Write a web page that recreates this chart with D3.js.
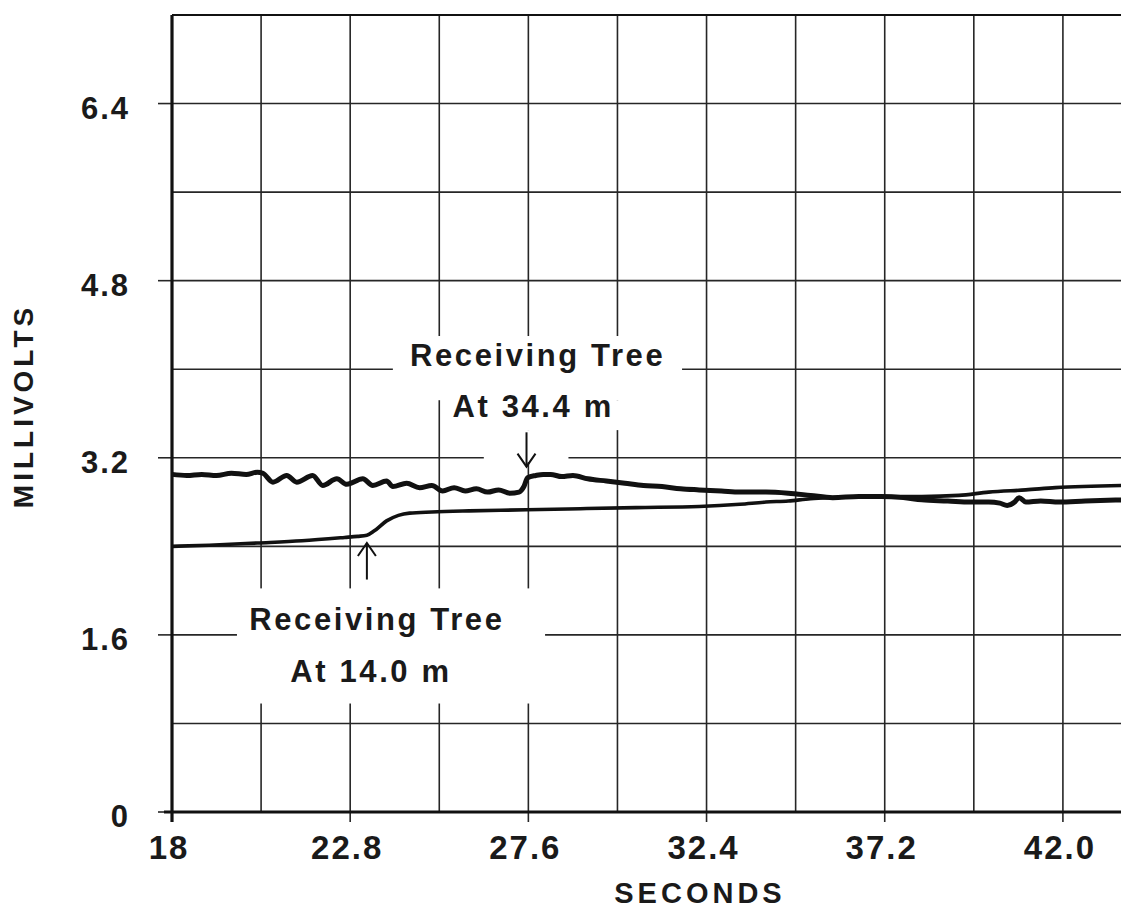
<!DOCTYPE html>
<html>
<head>
<meta charset="utf-8">
<script src="https://cdn.jsdelivr.net/npm/d3@7"></script>
<style>
    body { margin: 0; background: #fff; }
    text { font-family: "Liberation Sans", Arial, sans-serif; font-weight: bold; fill: #1a1a1a; }
</style>
</head>
<body>
<svg id="chart"></svg>
<script>
// Tick labels shown on the axes
const xTickLabels = [18, 22.8, 27.6, 32.4, 37.2, 42.0];
const yTickLabels = [0, 1.6, 3.2, 4.8, 6.4];

// Receiving tree at 34.4 m (upper, wavy trace)
const farSeconds = [18.0, 18.4, 18.8, 19.2, 19.6, 20.0, 20.3, 20.45, 20.72, 21.09, 21.36, 21.79, 22.06, 22.44,
    22.71, 23.14, 23.41, 23.78, 23.95, 24.32, 24.67, 25.0, 25.29, 25.6, 25.9, 26.2, 26.5, 26.8, 27.1, 27.35,
    27.48, 27.58, 27.8, 28.0, 28.2, 28.5, 28.8, 29.2, 29.7, 30.2, 30.7, 31.2, 31.7, 32.2, 32.8, 33.3, 34.0,
    34.6, 35.2, 35.8, 36.5, 37.1, 37.7, 38.2, 38.9, 39.5, 40.0, 40.3, 40.5, 40.7, 40.82, 41.0, 41.4, 41.9,
    42.6, 43.6];
const farMillivolts = [3.05, 3.04, 3.05, 3.04, 3.06, 3.05, 3.07, 3.06, 2.98, 3.04, 2.98, 3.04, 2.95, 3.01,
    2.96, 3.01, 2.95, 2.99, 2.94, 2.97, 2.93, 2.95, 2.90, 2.93, 2.90, 2.92, 2.89, 2.91, 2.88, 2.89,
    2.94, 3.02, 3.04, 3.05, 3.05, 3.03, 3.04, 3.01, 2.99, 2.97, 2.95, 2.94, 2.92, 2.91, 2.90, 2.89, 2.89,
    2.88, 2.86, 2.84, 2.85, 2.85, 2.84, 2.82, 2.81, 2.80, 2.80, 2.79, 2.77, 2.80, 2.84, 2.80, 2.81, 2.80,
    2.81, 2.82];

// Receiving tree at 14.0 m (lower, smooth trace)
const nearSeconds = [18.0, 19.0, 20.3, 21.5, 22.65, 23.0, 23.25, 23.45, 23.78, 24.1, 24.4, 25.0, 26.0, 27.55,
    29.0, 30.5, 32.2, 33.3, 34.0, 34.6, 35.2, 35.8, 37.1, 38.2, 39.2, 40.0, 41.0, 41.8, 43.6];
const nearMillivolts = [2.40, 2.41, 2.43, 2.45, 2.48, 2.49, 2.50, 2.54, 2.63, 2.68, 2.70, 2.71, 2.72, 2.73,
    2.74, 2.75, 2.76, 2.78, 2.80, 2.81, 2.83, 2.84, 2.85, 2.85, 2.86, 2.89, 2.91, 2.93, 2.95];

const farData = farSeconds.map((s, i) => ({ s: s, mv: farMillivolts[i] }));
const nearData = nearSeconds.map((s, i) => ({ s: s, mv: nearMillivolts[i] }));

// Canvas
var width = 1121, height = 913;
const svg = d3.select("#chart")
    .attr("width", width)
    .attr("height", height);

svg.append("rect").attr("width", width).attr("height", height).attr("fill", "#fff");

// Scales (the plot runs off the right edge like the scan)
const x = d3.scaleLinear().domain([18, 44.4]).range([172, 1152]);
const y = d3.scaleLinear().domain([0, 7.2]).range([812, 15]);

const gridX = d3.range(0, 12).map(i => 18 + i * 2.4);
const gridY = d3.range(0, 10).map(i => i * 0.8);

// Grid
const grid = svg.append("g").attr("stroke", "#262626").attr("stroke-width", 1.6);
grid.selectAll(".vgrid")
    .data(gridX)
    .join("line")
    .attr("x1", d => x(d)).attr("x2", d => x(d))
    .attr("y1", y(7.2)).attr("y2", y(0));
grid.selectAll(".hgrid")
    .data(gridY)
    .join("line")
    .attr("x1", x(18)).attr("x2", width)
    .attr("y1", d => y(d)).attr("y2", d => y(d));

// Ticks outside the frame at labelled values
grid.selectAll(".ytick")
    .data(yTickLabels)
    .join("line")
    .attr("x1", x(18) - 14).attr("x2", x(18))
    .attr("y1", d => y(d)).attr("y2", d => y(d));
grid.selectAll(".xtick")
    .data(xTickLabels)
    .join("line")
    .attr("x1", d => x(d)).attr("x2", d => x(d))
    .attr("y1", y(0)).attr("y2", y(0) + 10);

// White patches behind the annotations (they break the grid)
const patches = [
    { s0: 19.75, s1: 28.05, v0: 0.98, v1: 2.02 },
    { s0: 23.95, s1: 31.74, v0: 3.72, v1: 4.30 },
    { s0: 25.30, s1: 31.30, v0: 3.45, v1: 3.72 },
    { s0: 26.40, s1: 28.68, v0: 3.16, v1: 3.45 }
];
svg.selectAll(".patch")
    .data(patches)
    .join("rect")
    .attr("x", d => x(d.s0))
    .attr("y", d => y(d.v1))
    .attr("width", d => x(d.s1) - x(d.s0))
    .attr("height", d => y(d.v0) - y(d.v1))
    .attr("fill", "#fff");

// Frame: thick left and bottom axis, thinner top border
svg.append("line")
    .attr("x1", x(18)).attr("x2", x(18))
    .attr("y1", y(7.2)).attr("y2", y(0) + 10)
    .attr("stroke", "#111").attr("stroke-width", 3.2);
svg.append("line")
    .attr("x1", x(18) - 8).attr("x2", width)
    .attr("y1", y(0)).attr("y2", y(0))
    .attr("stroke", "#111").attr("stroke-width", 3.2);
svg.append("line")
    .attr("x1", x(18)).attr("x2", width)
    .attr("y1", y(7.2)).attr("y2", y(7.2))
    .attr("stroke", "#111").attr("stroke-width", 2.2);

// Traces
const line = d3.line()
    .x(d => x(d.s))
    .y(d => y(d.mv))
    .curve(d3.curveMonotoneX);

svg.append("path")
    .datum(nearData)
    .attr("d", line)
    .attr("fill", "none")
    .attr("stroke", "#111")
    .attr("stroke-width", 3.6);

svg.append("path")
    .datum(farData)
    .attr("d", line)
    .attr("fill", "none")
    .attr("stroke", "#111")
    .attr("stroke-width", 5)
    .attr("stroke-linejoin", "round");

// Tick labels
svg.selectAll(".ylabel")
    .data(yTickLabels)
    .join("text")
    .attr("x", 130)
    .attr("y", d => y(d) + 15)
    .attr("text-anchor", "end")
    .attr("font-size", 31)
    .attr("letter-spacing", 2)
    .text(d => d === 0 ? "0" : d.toFixed(1));

svg.selectAll(".xlabel")
    .data(xTickLabels)
    .join("text")
    .attr("x", d => x(d) - 3)
    .attr("y", y(0) + 47)
    .attr("text-anchor", "middle")
    .attr("font-size", 33)
    .attr("letter-spacing", 2)
    .text(d => d === 18 ? "18" : d.toFixed(1));

// Axis titles
svg.append("text")
    .attr("x", 700)
    .attr("y", 903)
    .attr("text-anchor", "middle")
    .attr("font-size", 29)
    .attr("letter-spacing", 4)
    .text("SECONDS");

svg.append("text")
    .attr("transform", "translate(33,406) rotate(-90)")
    .attr("text-anchor", "middle")
    .attr("font-size", 28)
    .attr("letter-spacing", 4)
    .text("MILLIVOLTS");

// Annotations
const notes = [
    { s: 27.85, mv: 4.03, text: "Receiving Tree" },
    { s: 27.73, mv: 3.57, text: "At 34.4 m" },
    { s: 23.52, mv: 1.64, text: "Receiving Tree" },
    { s: 23.36, mv: 1.17, text: "At 14.0 m" }
];
svg.selectAll(".note")
    .data(notes)
    .join("text")
    .attr("x", d => x(d.s))
    .attr("y", d => y(d.mv))
    .attr("text-anchor", "middle")
    .attr("font-size", 31)
    .attr("letter-spacing", 2.6)
    .text(d => d.text);

// Arrows pointing at the arrival of the signal
const arrows = [
    { s: 27.55, from: 3.43, to: 3.12 },
    { s: 23.25, from: 2.10, to: 2.43 }
];
arrows.forEach(a => {
    const ax = x(a.s), y0 = y(a.from), y1 = y(a.to);
    const dir = y1 > y0 ? -1 : 1;
    const g = svg.append("g").attr("stroke", "#111").attr("stroke-width", 2).attr("fill", "none");
    g.append("line").attr("x1", ax).attr("x2", ax).attr("y1", y0).attr("y2", y1);
    g.append("path")
        .attr("d", `M${ax - 9},${y1 + dir * 13} L${ax},${y1} L${ax + 9},${y1 + dir * 13}`);
});
</script>
</body>
</html>
